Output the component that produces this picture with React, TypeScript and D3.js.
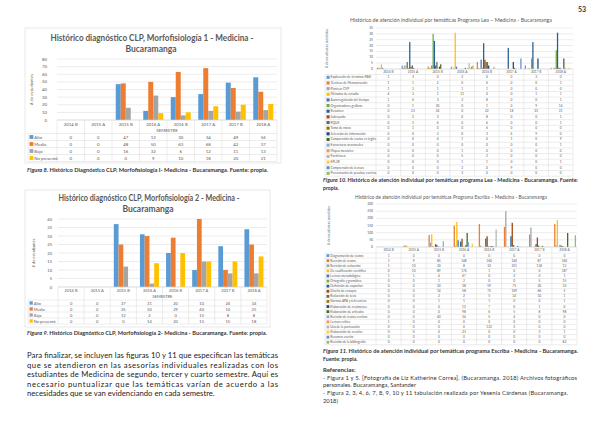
import React from "react";
import * as d3 from "d3";

// semestres (eje x) compartidos por las cuatro gráficas
const semestres = ["2014 B", "2015 A", "2015 B", "2016 A", "2016 B", "2017 A", "2017 B", "2018 A"];

// Figura 8 y 9: diagnóstico CLP
const nivelesDiag = ["Alto", "Media", "Bajo", "No presentó"];
const coloresDiag = ["#5B9BD5", "#ED7D31", "#A5A5A5", "#FFC000"];

const morfo1Alto = [0, 0, 47, 12, 30, 34, 49, 56];
const morfo1Media = [0, 0, 48, 50, 63, 68, 42, 37];
const morfo1Bajo = [0, 0, 16, 32, 6, 12, 11, 13];
const morfo1NoPresento = [0, 0, 0, 9, 10, 18, 20, 21];

const morfo2Alto = [0, 0, 37, 31, 20, 10, 24, 34];
const morfo2Media = [0, 0, 25, 30, 29, 40, 10, 25];
const morfo2Bajo = [0, 0, 12, 2, 0, 15, 8, 8];
const morfo2NoPresento = [0, 0, 0, 14, 20, 15, 15, 18];

// paleta de Excel
const coloresOffice = [
  "#5B9BD5", "#ED7D31", "#A5A5A5", "#FFC000", "#4472C4", "#70AD47",
  "#255E91", "#9E480E", "#636363", "#997300", "#264478", "#43682B",
  "#7CAFDD", "#F1975A", "#B7B7B7", "#FFCD33", "#698ED0", "#8CC168",
];

// Figura 10: programa Lea
const tematicasLea = [
  "Explicación de términos PAEI", "Técnicas de Memorización", "Plantear CVP",
  "Métodos de estudio", "Autorregulación del tiempo", "Organizadores gráficos",
  "Resumen", "Subrayado", "RQUE", "Toma de notas", "Selección de información",
  "Comprensión de textos en inglés", "Estructuras oracionales", "Mapas mentales",
  "Parafraseo", "EPL2R", "Comprensión de lectura", "Presentación de pruebas escritas",
];
const valoresLea = [
  [1, 3, 0, 2, 0, 0, 3, 0],
  [1, 1, 2, 0, 6, 0, 0, 1],
  [1, 3, 1, 1, 1, 0, 0, 0],
  [4, 3, 1, 31, 0, 0, 1, 1],
  [1, 6, 3, 2, 8, 0, 0, 1],
  [0, 1, 30, 0, 1, 0, 9, 16],
  [0, 23, 24, 0, 22, 18, 23, 31],
  [0, 2, 3, 0, 8, 0, 0, 1],
  [0, 3, 6, 0, 6, 0, 0, 1],
  [0, 1, 0, 0, 6, 0, 0, 0],
  [0, 0, 2, 0, 3, 6, 9, 0],
  [0, 0, 4, 1, 0, 1, 0, 9],
  [0, 0, 0, 0, 0, 0, 0, 1],
  [0, 0, 0, 1, 0, 0, 0, 0],
  [0, 0, 0, 5, 2, 0, 0, 0],
  [0, 0, 0, 1, 1, 0, 0, 1],
  [0, 0, 0, 2, 0, 9, 0, 0],
  [0, 0, 0, 3, 0, 0, 0, 0],
];

// Figura 11: programa Escriba
const tematicasEscriba = [
  "Diagramación de textos", "Revisión de textos", "Revisión de redacción",
  "De cualificación científica", "Lectura metodológica", "Ortografía y gramática",
  "Definición de expositor", "Diseño de ensayos", "Redacción de tesis",
  "Normas APA y referencias", "Elaboración de resúmenes", "Elaboración de artículos",
  "Revisión de textos escritos", "Lectura crítica", "Uso de la puntuación",
  "Elaboración de reseñas", "Resumen escrito", "Revisión de la bibliografía",
];
const valoresEscriba = [
  [1, 0, 0, 0, 0, 0, 0, 0],
  [1, 9, 85, 148, 160, 140, 87, 160],
  [1, 10, 30, 8, 10, 251, 136, 12],
  [0, 10, 89, 176, 1, 0, 0, 187],
  [1, 1, 4, 47, 0, 2, 0, 1],
  [0, 0, 1, 2, 0, 0, 5, 15],
  [0, 0, 20, 38, 59, 75, 20, 10],
  [0, 0, 14, 58, 75, 169, 66, 5],
  [0, 0, 2, 2, 5, 14, 10, 1],
  [0, 0, 1, 1, 1, 0, 0, 1],
  [0, 0, 0, 12, 7, 0, 1, 0],
  [0, 0, 0, 98, 6, 5, 8, 98],
  [0, 0, 40, 34, 5, 4, 0, 0],
  [1, 0, 0, 0, 0, 0, 0, 0],
  [0, 0, 0, 0, 122, 3, 0, 0],
  [0, 0, 0, 23, 0, 0, 3, 1],
  [0, 0, 0, 0, 0, 0, 0, 0],
  [0, 0, 0, 0, 0, 0, 0, 82],
];

const parrafo = [
  "Para finalizar, se incluyen las figuras 10 y 11 que especifican las temáticas",
  "que se atendieron en las asesorías individuales realizadas con los",
  "estudiantes de Medicina de segundo, tercer y cuarto semestre. Aquí es",
  "necesario puntualizar que las temáticas varían de acuerdo a las",
  "necesidades que se van evidenciando en cada semestre.",
];

const referencias = [
  "- Figura 1 y 5. [Fotografía de Liz Katherine Correa]. (Bucaramanga. 2018) Archivos fotográficos",
  "personales. Bucaramanga, Santander",
  "- Figura 2, 3, 4, 6, 7, 8, 9, 10 y 11 tabulación realizada por Yesenia Cárdenas (Bucaramanga.",
  "2018)",
];

const FONT = "Lato, 'Open Sans', sans-serif";
const GRID = "#D9D9D9";
const TXT = "#595959";

type ChartProps = {
  names: string[];
  colors: string[];
  values: number[][];
  yMax: number;
  yStep: number;
  l: number; r: number; t: number; b: number;
  legendL: number;
  headerH: number;
  rowH: number;
  tickFs: number;
  tableFs: number;
  yLabelX: number;
  yTitle: string;
  yTitleX: number;
  xTitle?: string;
  xTitleY?: number;
};

function ExcelChart(p: ChartProps) {
  const x = d3.scaleBand().domain(semestres).range([p.l, p.r]);
  const inner = d3
    .scaleBand()
    .domain(p.names.map((_, i) => String(i)))
    .range([0, x.bandwidth()])
    .paddingOuter(0.75);
  const y = d3.scaleLinear().domain([0, p.yMax]).range([p.b, p.t]);
  const ticks = d3.range(0, p.yMax + p.yStep / 2, p.yStep);
  const rowTop = p.b + p.headerH;
  const bottom = rowTop + p.rowH * p.names.length;
  const mk = p.rowH * 0.55;

  return (
    <g fontFamily={FONT}>
      {ticks.map((tk) => (
        <g key={tk}>
          <line x1={p.l} x2={p.r} y1={y(tk)} y2={y(tk)} stroke={GRID} strokeWidth={0.5} />
          <text x={p.yLabelX} y={y(tk)} fontSize={p.tickFs} fill={TXT} textAnchor="end" dominantBaseline="central">
            {tk}
          </text>
        </g>
      ))}
      <text
        transform={`translate(${p.yTitleX},${(p.t + p.b) / 2}) rotate(-90)`}
        fontSize={p.tickFs}
        fill={TXT}
        textAnchor="middle"
        dominantBaseline="central"
      >
        {p.yTitle}
      </text>
      {p.values.map((serie, si) =>
        serie.map((v, ci) =>
          v > 0 ? (
            <rect
              key={`${si}-${ci}`}
              x={(x(semestres[ci]) as number) + (inner(String(si)) as number)}
              width={inner.bandwidth()}
              y={y(v)}
              height={p.b - y(v)}
              fill={p.colors[si]}
            />
          ) : null
        )
      )}
      {/* tabla de datos */}
      <line x1={p.l} x2={p.r} y1={p.b} y2={p.b} stroke={GRID} strokeWidth={0.6} />
      {p.names.map((_, i) => (
        <line key={i} x1={p.legendL} x2={p.r} y1={rowTop + i * p.rowH} y2={rowTop + i * p.rowH} stroke={GRID} strokeWidth={0.5} />
      ))}
      <line x1={p.legendL} x2={p.r} y1={bottom} y2={bottom} stroke={GRID} strokeWidth={0.5} />
      <line x1={p.legendL} x2={p.legendL} y1={rowTop} y2={bottom} stroke={GRID} strokeWidth={0.5} />
      {semestres.map((c) => (
        <line key={c} x1={x(c) as number} x2={x(c) as number} y1={p.b} y2={bottom} stroke={GRID} strokeWidth={0.5} />
      ))}
      <line x1={p.r} x2={p.r} y1={p.b} y2={bottom} stroke={GRID} strokeWidth={0.5} />
      {semestres.map((c) => (
        <text
          key={c}
          x={(x(c) as number) + x.bandwidth() / 2}
          y={p.b + (p.xTitle ? p.headerH * 0.3 : p.headerH / 2)}
          fontSize={p.tableFs}
          fill={TXT}
          textAnchor="middle"
          dominantBaseline="central"
        >
          {c}
        </text>
      ))}
      {p.xTitle && (
        <text x={(p.l + p.r) / 2} y={p.xTitleY} fontSize={p.tableFs} fill={TXT} textAnchor="middle" dominantBaseline="central">
          {p.xTitle}
        </text>
      )}
      {p.names.map((n, i) => {
        const cy = rowTop + (i + 0.5) * p.rowH;
        return (
          <g key={n}>
            <rect x={p.legendL + 1.5} y={cy - mk / 2} width={mk} height={mk} fill={p.colors[i]} />
            <text x={p.legendL + 2.5 + mk} y={cy} fontSize={p.tableFs} fill={TXT} dominantBaseline="central">
              {n}
            </text>
            {p.values[i].map((v, ci) => (
              <text
                key={ci}
                x={(x(semestres[ci]) as number) + x.bandwidth() / 2}
                y={cy}
                fontSize={p.tableFs}
                fill={TXT}
                textAnchor="middle"
                dominantBaseline="central"
              >
                {v}
              </text>
            ))}
          </g>
        );
      })}
    </g>
  );
}

function Caption({ x, y, fig, rest, width, fs }: { x: number; y: number; fig: string; rest: string; width?: number; fs: number }) {
  return (
    <text
      x={x}
      y={y}
      fontFamily={FONT}
      fontSize={fs}
      fontWeight="bold"
      fill="#333"
      dominantBaseline="central"
      textLength={width}
      lengthAdjust={width ? "spacingAndGlyphs" : undefined}
    >
      <tspan fontStyle="italic">{fig}</tspan>
      {rest}
    </text>
  );
}

export default function App() {
  const morfo1 = [morfo1Alto, morfo1Media, morfo1Bajo, morfo1NoPresento];
  const morfo2 = [morfo2Alto, morfo2Media, morfo2Bajo, morfo2NoPresento];

  return (
    <svg
      width={600}
      height={424}
      style={{ position: "absolute", left: 0, top: 0, display: "block", background: "#fff" }}
    >
      <rect width={600} height={424} fill="#fff" />

      {/* Figura 8 */}
      <rect x={25} y={28} width={256} height={135} fill="#fff" stroke={GRID} strokeWidth={0.6} />
      <text x={152} y={38} fontFamily={FONT} fontSize={8.5} fontWeight="bold" fill={TXT} textAnchor="middle" dominantBaseline="central" textLength={203} lengthAdjust="spacingAndGlyphs">
        Histórico diagnóstico CLP, Morfofisiología 1 - Medicina -
      </text>
      <text x={151} y={49} fontFamily={FONT} fontSize={8.5} fontWeight="bold" fill={TXT} textAnchor="middle" dominantBaseline="central">
        Bucaramanga
      </text>
      <ExcelChart
        names={nivelesDiag}
        colors={coloresDiag}
        values={morfo1}
        yMax={80}
        yStep={10}
        l={57} r={277} t={59} b={120}
        legendL={28}
        headerH={13.5}
        rowH={7}
        tickFs={4.3}
        tableFs={4.3}
        yLabelX={47}
        yTitle="# de estudiantes"
        yTitleX={31}
        xTitle="SEMESTRE"
        xTitleY={130}
      />
      <Caption x={27} y={170} fs={5.2} width={241} fig="Figura 8. " rest="Histórico Diagnóstico CLP, Morfofisiología I- Medicina - Bucaramanga. Fuente: propia." />

      {/* Figura 9 */}
      <rect x={25} y={190} width={245} height={137} fill="#fff" stroke={GRID} strokeWidth={0.6} />
      <text x={149} y={198} fontFamily={FONT} fontSize={8.5} fontWeight="bold" fill={TXT} textAnchor="middle" dominantBaseline="central" textLength={181} lengthAdjust="spacingAndGlyphs">
        Histórico diagnóstico CLP, Morfofisiología 2 - Medicina -
      </text>
      <text x={148} y={209} fontFamily={FONT} fontSize={8.5} fontWeight="bold" fill={TXT} textAnchor="middle" dominantBaseline="central">
        Bucaramanga
      </text>
      <ExcelChart
        names={nivelesDiag}
        colors={coloresDiag}
        values={morfo2}
        yMax={40}
        yStep={5}
        l={58} r={267} t={219} b={287}
        legendL={28}
        headerH={13}
        rowH={6}
        tickFs={4}
        tableFs={4}
        yLabelX={52}
        yTitle="# de estudiantes"
        yTitleX={33}
        xTitle="SEMESTRE"
        xTitleY={296}
      />
      <Caption x={27} y={333} fs={5.2} width={240} fig="Figura 9. " rest="Histórico Diagnóstico CLP, Morfofisiología 2- Medicina - Bucaramanga. Fuente: propia." />

      {/* párrafo */}
      {parrafo.map((ln, i) => (
        <text
          key={i}
          x={27}
          y={355 + i * 9.6}
          fontFamily={FONT}
          fontSize={7.7}
          fill="#222"
          dominantBaseline="central"
          textLength={i < parrafo.length - 1 ? 251 : undefined}
          lengthAdjust="spacing"
        >
          {ln}
        </text>
      ))}

      {/* número de página */}
      <text x={582} y={9} fontFamily={FONT} fontSize={7} fontWeight="bold" fill="#333" textAnchor="middle" dominantBaseline="central">
        53
      </text>

      {/* Figura 10 */}
      <text x={451} y={20} fontFamily={FONT} fontSize={5} fill={TXT} textAnchor="middle" dominantBaseline="central" textLength={202} lengthAdjust="spacingAndGlyphs">
        Histórico de atención individual por temáticas Programa Lea – Medicina - Bucaramanga
      </text>
      <ExcelChart
        names={tematicasLea}
        colors={coloresOffice}
        values={valoresLea}
        yMax={35}
        yStep={5}
        l={376} r={573} t={28} b={69}
        legendL={325}
        headerH={5.5}
        rowH={5.65}
        tickFs={3.3}
        tableFs={3.2}
        yLabelX={373}
        yTitle="# de estudiantes atendidos"
        yTitleX={327}
      />
      <Caption x={323} y={180} fs={5.2} width={255} fig="Figura 10. " rest="Histórico de atención individual por temáticas programa Lea - Medicina - Bucaramanga. Fuente:" />
      <Caption x={323} y={187.5} fs={5.2} fig="" rest="propia." />

      {/* Figura 11 */}
      <text x={451} y={197} fontFamily={FONT} fontSize={5} fill={TXT} textAnchor="middle" dominantBaseline="central" textLength={192} lengthAdjust="spacingAndGlyphs">
        Histórico de atención individual por temáticas Programa Escriba – Medicina - Bucaramanga
      </text>
      <ExcelChart
        names={tematicasEscriba}
        colors={coloresOffice}
        values={valoresEscriba}
        yMax={300}
        yStep={50}
        l={376} r={577} t={204} b={247}
        legendL={325}
        headerH={6}
        rowH={5.1}
        tickFs={3.3}
        tableFs={3.2}
        yLabelX={373}
        yTitle="# de estudiantes atendidos"
        yTitleX={329}
      />
      <Caption x={323} y={351} fs={5.2} width={255} fig="Figura 11. " rest="Histórico de atención individual por temáticas programa Escriba - Medicina - Bucaramanga." />
      <Caption x={323} y={359} fs={5.2} fig="" rest="Fuente: propia." />

      {/* referencias */}
      <text x={323} y={369} fontFamily={FONT} fontSize={6} fontWeight="bold" fill="#333" dominantBaseline="central">
        Referencias:
      </text>
      {referencias.map((ln, i) => (
        <text
          key={i}
          x={323}
          y={377 + i * 7.7}
          fontFamily={FONT}
          fontSize={5.8}
          fill="#333"
          dominantBaseline="central"
          textLength={i === 0 ? 254 : i === 2 ? 245 : undefined}
          lengthAdjust="spacing"
        >
          {ln}
        </text>
      ))}
    </svg>
  );
}
